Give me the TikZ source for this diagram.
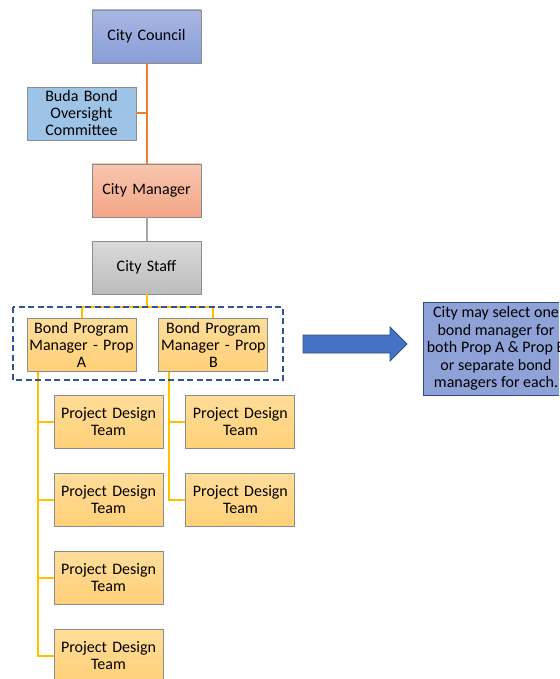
\documentclass[tikz,border=0pt]{standalone}
\usepackage{fontspec}
\setmainfont{Carlito}
\usetikzlibrary{positioning}
\definecolor{boxline}{HTML}{8C8C8C}
\definecolor{orgline}{HTML}{ED7D31}
\definecolor{stafline}{HTML}{A5A5A5}
\definecolor{teamline}{HTML}{FFC000}
\definecolor{selblue}{HTML}{2F5597}
\tikzset{orgbox/.style={rectangle,draw=boxline,line width=0.9pt,
inner sep=1pt,minimum height=53pt,minimum width=109pt,text width=107pt,align=center,
font=\fontsize{16}{17}\selectfont}}
\tikzset{councilbox/.style={orgbox,top color={rgb,255:red,168;green,182;blue,226},bottom color={rgb,255:red,137;green,158;blue,216}}}
\tikzset{bondbox/.style={orgbox,fill={rgb,255:red,157;green,195;blue,230}}}
\tikzset{managerbox/.style={orgbox,top color={rgb,255:red,248;green,197;blue,174},bottom color={rgb,255:red,243;green,166;blue,134}}}
\tikzset{staffbox/.style={orgbox,top color={rgb,255:red,218;green,218;blue,218},bottom color={rgb,255:red,188;green,188;blue,188}}}
\tikzset{teambox/.style={orgbox,top color={rgb,255:red,255;green,221;blue,153},bottom color={rgb,255:red,255;green,208;blue,120}}}
\tikzset{notebox/.style={rectangle,draw={rgb,255:red,47;green,77;blue,138},line width=0.9pt,
fill={rgb,255:red,143;green,162;blue,216},inner sep=0pt,minimum height=93pt,minimum width=146pt,
align=center,font=\fontsize{16}{17.5}\selectfont}}

\begin{document}
\begin{tikzpicture}[x=1pt,y=-1pt]
    \useasboundingbox (0,0) rectangle (559,679);
    \clip (0,0) rectangle (559,679);

        \node[councilbox] (council) at (146.5, 36.5) {City Council};
        \node[bondbox] (oversight) at (81.5, 113.5) {Buda Bond\\Oversight\\Committee};
        \node[managerbox] (manager) at (146.5, 190.5) {City Manager};
        \node[staffbox] (staff) at (146.5, 267.5) {City Staff};

        \node[teambox] (bpmA) at (81.5, 345) {Bond Program\\Manager - Prop\\A};
        \node[teambox] (bpmB) [right=22pt of bpmA] {Bond Program\\Manager - Prop\\B};

        \node[teambox] (teamA1) at (108.5, 422) {Project Design\\Team};
        \node[teambox] (teamA2) [below=24pt of teamA1] {Project Design\\Team};
        \node[teambox] (teamA3) [below=24pt of teamA2] {Project Design\\Team};
        \node[teambox] (teamA4) [below=24pt of teamA3] {Project Design\\Team};
        \node[teambox] (teamB1) [right=22pt of teamA1] {Project Design\\Team};
        \node[teambox] (teamB2) [below=24pt of teamB1] {Project Design\\Team};

        \node[notebox] (note) at (496, 348.5) {City may select one\\bond manager for\\both Prop A \& Prop B\\or separate bond\\managers for each.};

        % upper links
        \draw [orgline,line width=2pt] (council) -- (manager);
        \draw [orgline,line width=2pt] (oversight.east) -- (oversight.east -| council.south);
        \draw [stafline,line width=2pt] (manager) -- (staff);

        % staff to the two bond managers
        \coordinate (split) at (146.5, 307);
        \draw [teamline,line width=2pt] (staff.south) -- (split);
        \draw [teamline,line width=2pt] (bpmA.north) |- (split) -| (bpmB.north);

        % teams under each bond manager
        \coordinate (trunkA) at (38, 372);
        \coordinate (trunkB) at (169, 372);
        \draw [teamline,line width=2pt] (trunkA) |- (teamA4.west);
        \foreach \t in {teamA1,teamA2,teamA3}
            \draw [teamline,line width=2pt] (trunkA |- \t.west) -- (\t.west);
        \draw [teamline,line width=2pt] (trunkB) |- (teamB2.west);
        \draw [teamline,line width=2pt] (trunkB |- teamB1.west) -- (teamB1.west);

        % selection frame and arrow
        \draw [selblue,line width=2pt,dash pattern=on 6pt off 3.5pt] (13,307) rectangle (283,380);
        \draw [draw={rgb,255:red,47;green,82;blue,143},line width=0.9pt,fill={rgb,255:red,68;green,114;blue,196}]
            (303,335) -- (390,335) -- (390,327) -- (407,344) -- (390,361) -- (390,353) -- (303,353) -- cycle;

    \end{tikzpicture}
\end{document}
